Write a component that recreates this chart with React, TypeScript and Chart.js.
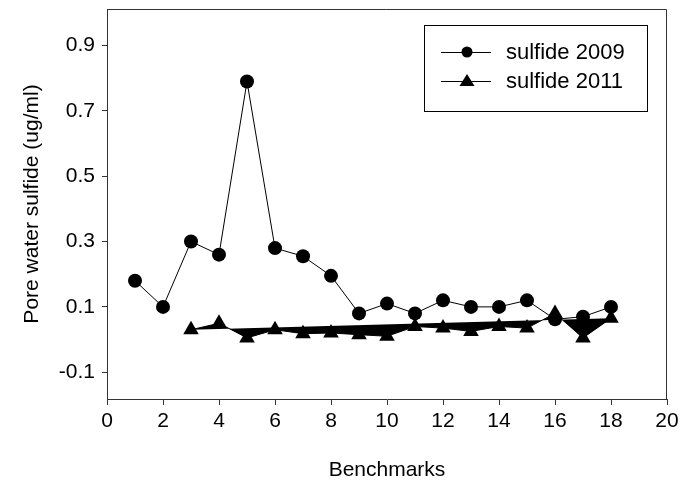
import React, { useEffect, useRef } from "react";
import { Chart, registerables } from "chart.js";
Chart.register(...registerables);

const benchmarks2009 = [1, 2, 3, 4, 5, 6, 7, 8, 9, 10, 11, 12, 13, 14, 15, 16, 17, 18];
const sulfide2009 = [0.18, 0.10, 0.30, 0.26, 0.79, 0.28, 0.255, 0.195, 0.08, 0.11, 0.08, 0.12, 0.10, 0.10, 0.12, 0.062, 0.07, 0.10];
const benchmarks2011 = [3, 4, 5, 6, 7, 8, 9, 10, 11, 12, 13, 14, 15, 16, 17, 18];
const sulfide2011 = [0.03, 0.05, 0.005, 0.03, 0.018, 0.02, 0.015, 0.01, 0.04, 0.035, 0.025, 0.04, 0.035, 0.08, 0.005, 0.065];
const yTicks = [-0.1, 0.1, 0.3, 0.5, 0.7, 0.9];
const xTicks = [0, 2, 4, 6, 8, 10, 12, 14, 16, 18, 20];
const seriesLabels = ["sulfide 2009", "sulfide 2011"];

const FONT = "'Liberation Sans', Arial, sans-serif";

export default function App() {
  const ref = useRef<HTMLCanvasElement>(null);
  useEffect(() => {
    document.body.style.margin = "0";
    const framePlugin = {
      id: "frame",
      afterDatasetsDraw(chart: any) {
        const { ctx, chartArea: a } = chart;
        ctx.save();
        ctx.strokeStyle = "#333";
        ctx.lineWidth = 1;
        ctx.beginPath();
        ctx.moveTo(a.left, a.top + 0.5);
        ctx.lineTo(a.right - 0.5, a.top + 0.5);
        ctx.lineTo(a.right - 0.5, a.bottom);
        ctx.stroke();
        // legend
        const bx = 424, by = 25, bw = 223, bh = 86;
        ctx.fillStyle = "#fff";
        ctx.fillRect(bx, by, bw, bh);
        ctx.strokeStyle = "#000";
        ctx.strokeRect(bx + 0.5, by + 0.5, bw, bh);
        const rows = [52, 81];
        ctx.font = `22px ${FONT}`;
        ctx.textBaseline = "middle";
        rows.forEach((y, i) => {
          ctx.strokeStyle = "#000";
          ctx.lineWidth = 1;
          ctx.beginPath();
          ctx.moveTo(441, y + 0.5);
          ctx.lineTo(491, y + 0.5);
          ctx.stroke();
          ctx.fillStyle = "#000";
          ctx.beginPath();
          if (i === 0) {
            ctx.arc(467, y, 5.5, 0, Math.PI * 2);
          } else {
            ctx.moveTo(467, y - 7);
            ctx.lineTo(474.5, y + 5);
            ctx.lineTo(459.5, y + 5);
            ctx.closePath();
          }
          ctx.fill();
          ctx.fillText(seriesLabels[i], 506, y + 1);
        });
        ctx.restore();
      },
    };
    const chart = new Chart(ref.current!, {
      type: "line",
      data: {
        datasets: [
          {
            label: seriesLabels[0],
            data: benchmarks2009.map((x, i) => ({ x, y: sulfide2009[i] })),
            borderColor: "#000",
            backgroundColor: "#000",
            borderWidth: 1,
            pointStyle: "circle",
            pointRadius: 7,
            pointBackgroundColor: "#000",
            pointBorderWidth: 0,
            fill: false,
          },
          {
            label: seriesLabels[1],
            data: benchmarks2011.map((x, i) => ({ x, y: sulfide2011[i] })),
            borderColor: "#000",
            backgroundColor: "#000",
            borderWidth: 1,
            pointStyle: "triangle",
            pointRadius: 9,
            pointBackgroundColor: "#000",
            pointBorderWidth: 0,
            fill: "shape",
          },
        ],
      },
      options: {
        responsive: false,
        animation: false,
        layout: { padding: { top: 5, right: 17, left: 0, bottom: 0 } },
        plugins: { legend: { display: false }, tooltip: { enabled: false } },
        scales: {
          x: {
            type: "linear",
            min: 0,
            max: 20,
            afterBuildTicks(s: any) {
              s.ticks = xTicks.map((v) => ({ value: v }));
            },
            afterFit(s: any) {
              s.height = 88;
              s.paddingLeft = 0;
              s.paddingRight = 0;
            },
            grid: { display: true, drawOnChartArea: false, drawTicks: true, tickLength: 6, color: "#333" },
            border: { display: true, color: "#333" },
            ticks: { color: "#000", font: { family: FONT, size: 21 }, padding: 4, maxRotation: 0 },
            title: { display: true, text: "Benchmarks", color: "#000", font: { family: FONT, size: 21 }, padding: { top: 16 } },
          },
          y: {
            type: "linear",
            min: -0.182,
            max: 1.012,
            afterBuildTicks(s: any) {
              s.ticks = yTicks.map((v) => ({ value: v }));
            },
            afterFit(s: any) {
              s.width = 107;
              s.paddingTop = 0;
              s.paddingBottom = 0;
            },
            grid: { display: true, drawOnChartArea: false, drawTicks: true, tickLength: 5, color: "#333" },
            border: { display: true, color: "#333" },
            ticks: {
              color: "#000",
              font: { family: FONT, size: 21 },
              padding: 7,
              callback: (v: any) => Number(v).toFixed(1),
            },
            title: { display: true, text: "Pore water sulfide (ug/ml)", color: "#000", font: { family: FONT, size: 21 }, padding: { top: 20, bottom: 4 } },
          },
        },
      },
      plugins: [framePlugin],
    } as any);
    return () => chart.destroy();
  }, []);
  return (
    <div style={{ width: 684, height: 487 }}>
      <canvas ref={ref} width={684} height={487} style={{ display: "block" }} />
    </div>
  );
}
